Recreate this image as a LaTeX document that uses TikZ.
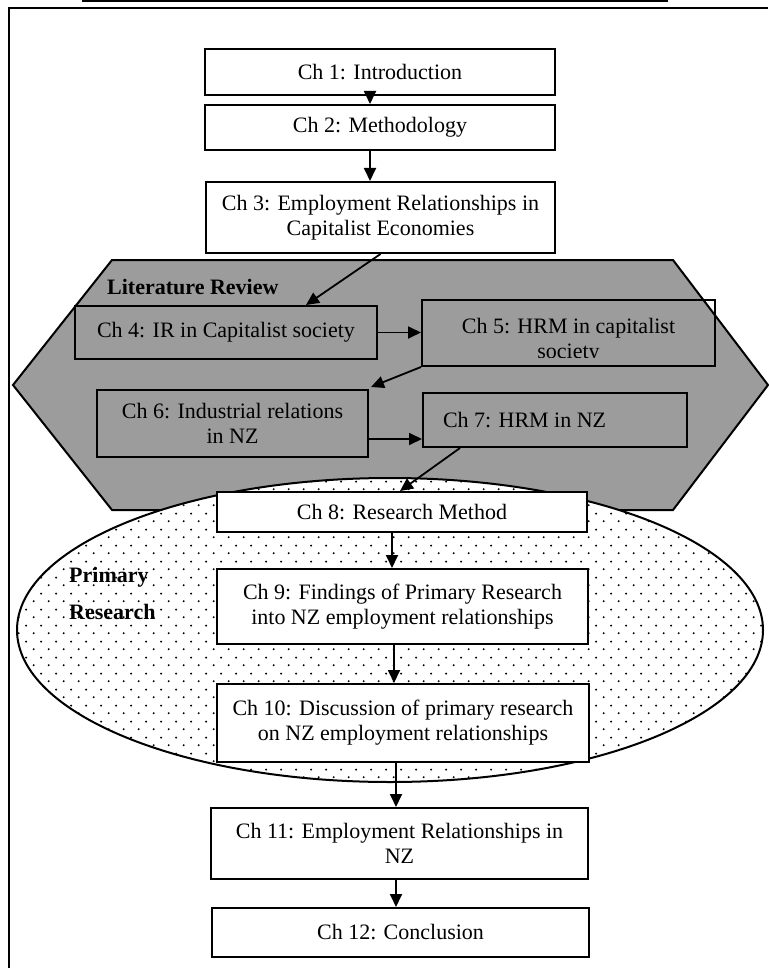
\documentclass[tikz,border=0pt]{standalone}
\usepackage{fontspec}
\setmainfont{Liberation Serif}
\usetikzlibrary{arrows.meta,shapes.geometric,patterns.meta}

\definecolor{litgrey}{RGB}{156,156,156}

% staggered dot fill for the primary research region
\tikzdeclarepattern{
  name=stagdots,
  type=uncolored,
  bounding box={(0pt,0pt) and (15.4pt,15.6pt)},
  tile size={(15.4pt,15.6pt)},
  code={
    \fill (3.85pt,3.9pt) circle (1.1pt);
    \fill (11.55pt,11.7pt) circle (1.1pt);
  }
}

\tikzset{
  chbox/.style={draw, line width=2pt, inner sep=0pt, align=center,
    font=\fontsize{22}{25}\selectfont},
  whitebox/.style={chbox, fill=white},
  label/.style={inner sep=0pt, align=left,
    font=\fontsize{22}{25}\selectfont\bfseries},
  flow/.style={line width=1.8pt, -{Triangle[length=13pt,width=12pt]}},
  frame/.style={line width=2pt},
}

\begin{document}
\begin{tikzpicture}[x=1pt, y=-1pt]
\useasboundingbox (0,0) rectangle (768,968);

% page frame and heading rule
\draw[frame] (9,968) -- (9,8) -- (768,8);
\draw[line width=2pt] (82,1.5) -- (668,1.5);

% literature review band
\draw[line width=2pt, fill=litgrey]
  (112,260) -- (673,260) -- (768,385) -- (673,510) -- (112,510) -- (13,385) -- cycle;
\node[label, anchor=west] (litlab) at (107,287) {Literature Review};

% primary research region
\node[ellipse, draw, line width=2pt, fill=white, inner sep=0pt,
      minimum width=746pt, minimum height=304pt,
      postaction={pattern=stagdots, pattern color=black}] (prim) at (390,630) {};
\node[label, anchor=west] (primlab) at (69,593.5) {Primary\\[12pt]Research};

% chapters
\node[whitebox, minimum width=350pt, minimum height=46pt] (c1) at (380,72) {Ch 1: Introduction};
\node[whitebox, minimum width=350pt, minimum height=45pt] (c2) at (380,127.5) {Ch 2: Methodology};
\node[whitebox, minimum width=349pt, minimum height=71pt] (c3) at (380.5,217.5)
  {Ch 3: Employment Relationships in\\Capitalist Economies};

\node[chbox, minimum width=302pt, minimum height=53pt] (c4) at (226,332.5)
  {Ch 4: IR in Capitalist society};
\node[chbox, minimum width=293pt, minimum height=66pt] (c5) at (568.5,333) {};
\begin{scope}
  % the second line sits on the lower edge of its text frame
  \clip (423,301) rectangle (714,357.5);
  \node[chbox, draw=none] (c5t) at (568.5,341) {Ch 5: HRM in capitalist\\society};
\end{scope}
\node[chbox, minimum width=271pt, minimum height=67pt] (c6) at (232.5,423.5)
  {Ch 6: Industrial relations\\in NZ};
\node[chbox, minimum width=264pt, minimum height=54pt] (c7) at (555,420) {};
\node[chbox, draw=none, anchor=west] (c7t) at (442,420) {Ch 7: HRM in NZ};

\node[whitebox, minimum width=370pt, minimum height=40pt] (c8) at (402,512) {Ch 8: Research Method};
\node[whitebox, minimum width=371pt, minimum height=75pt] (c9) at (402.5,606.5)
  {Ch 9: Findings of Primary Research\\into NZ employment relationships};
\node[whitebox, minimum width=372pt, minimum height=78pt] (c10) at (403,723)
  {Ch 10: Discussion of primary research\\on NZ employment relationships};
\node[whitebox, minimum width=377pt, minimum height=71pt] (c11) at (399.5,843.5)
  {Ch 11: Employment Relationships in\\NZ};
\node[whitebox, minimum width=377pt, minimum height=49pt] (c12) at (400.5,932.5) {Ch 12: Conclusion};

% connectors
\draw[flow] ([xshift=-10pt]c1.south) -- ([xshift=-10pt]c2.north);
\draw[flow] ([xshift=-10pt]c2.south) -- ([xshift=-10.5pt]c3.north);
\draw[flow] (c3.south) -- ([xshift=80pt]c4.north);
\draw[flow] (c4.east) -- (c4.east -| c5.west);
\draw[flow] (c5.south west) -- ([xshift=2pt,yshift=2pt]c6.north east);
\draw[flow] ([yshift=-15.5pt]c6.east) -- ([yshift=-15.5pt]c6.east -| c7.west);
\draw[flow] ([xshift=-95pt]c7.south) -- ([xshift=-2pt]c8.north);
\draw[flow] ([xshift=-10pt]c8.south) -- ([xshift=-10pt]c8.south |- c9.north);
\draw[flow] ([xshift=-8.5pt]c9.south) -- ([xshift=-8.5pt]c9.south |- c10.north);
\draw[flow] ([xshift=-7pt]c10.south) -- ([xshift=-7pt]c10.south |- c11.north);
\draw[flow] ([xshift=-3.5pt]c11.south) -- ([xshift=-3.5pt]c11.south |- c12.north);
\end{tikzpicture}
\end{document}
